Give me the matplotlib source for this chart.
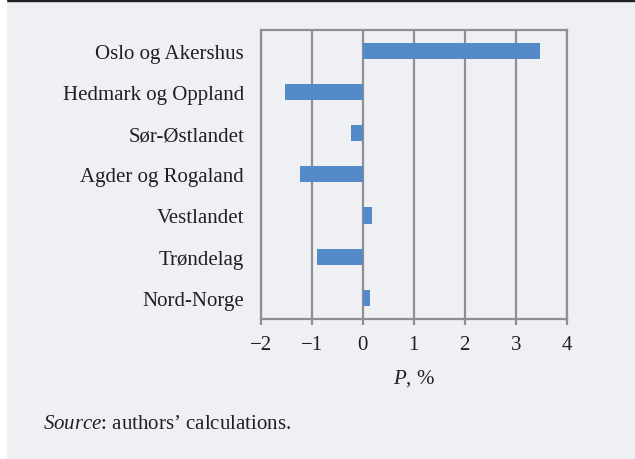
import matplotlib
matplotlib.use("Agg")
import matplotlib.pyplot as plt
from matplotlib.patches import Rectangle

regions = ["Oslo og Akershus", "Hedmark og Oppland", "Sør-Østlandet",
           "Agder og Rogaland", "Vestlandet", "Trøndelag", "Nord-Norge"]
values = [3.47, -1.53, -0.23, -1.23, 0.19, -0.90, 0.15]
xticks = [-2, -1, 0, 1, 2, 3, 4]

bg = "#eff0f4"
grid_col = "#8f8f8f"
txt_col = "#231f20"
fs = 15

plt.rcParams["font.family"] = ["Liberation Serif", "DejaVu Serif"]
plt.rcParams["mathtext.fontset"] = "custom"
plt.rcParams["mathtext.rm"] = "Liberation Serif"
plt.rcParams["mathtext.it"] = "Liberation Serif:italic"

fig = plt.figure(figsize=(6.35, 4.6), dpi=100, facecolor=bg)
ax = fig.add_axes([0.4106, 0.3054, 0.4819, 0.6272])
ax.set_facecolor(bg)

pos = list(range(len(regions)))
ax.barh(pos, values, height=0.39, color="#558ac9", zorder=3)

ax.set_xlim(-2, 4)
ax.set_ylim(len(regions) - 0.5, -0.5)
ax.set_xticks(xticks)
ax.set_xticklabels([str(t).replace("-", "\u2212") for t in xticks])
ax.set_yticks(pos)
ax.set_yticklabels(regions)

for t in xticks:
    ax.axvline(t, color=grid_col, lw=1.6, zorder=2)

for s in ax.spines.values():
    s.set_color(grid_col)
    s.set_linewidth(1.6)

ax.tick_params(axis="y", length=0, pad=12, labelsize=fs, labelcolor=txt_col)
ax.tick_params(axis="x", length=4, width=1.6, color=grid_col, pad=8,
               labelsize=fs, labelcolor=txt_col)

ax.set_xlabel("$\\mathit{P}$, %", fontsize=fs, color=txt_col, labelpad=9)

fig.text(0.068, 0.068, "$\\mathit{Source}$: authors\u2019 calculations.",
         fontsize=fs, color=txt_col)

# black rule on top and white strip on the left, as in the scan
fig.patches.append(Rectangle((0, 0.9957), 1, 0.0043, transform=fig.transFigure,
                             color=txt_col, zorder=0))
fig.patches.append(Rectangle((0, 0), 0.0094, 1, transform=fig.transFigure,
                             color="white", zorder=0))

fig.savefig("out.png", dpi=100, facecolor=bg)
